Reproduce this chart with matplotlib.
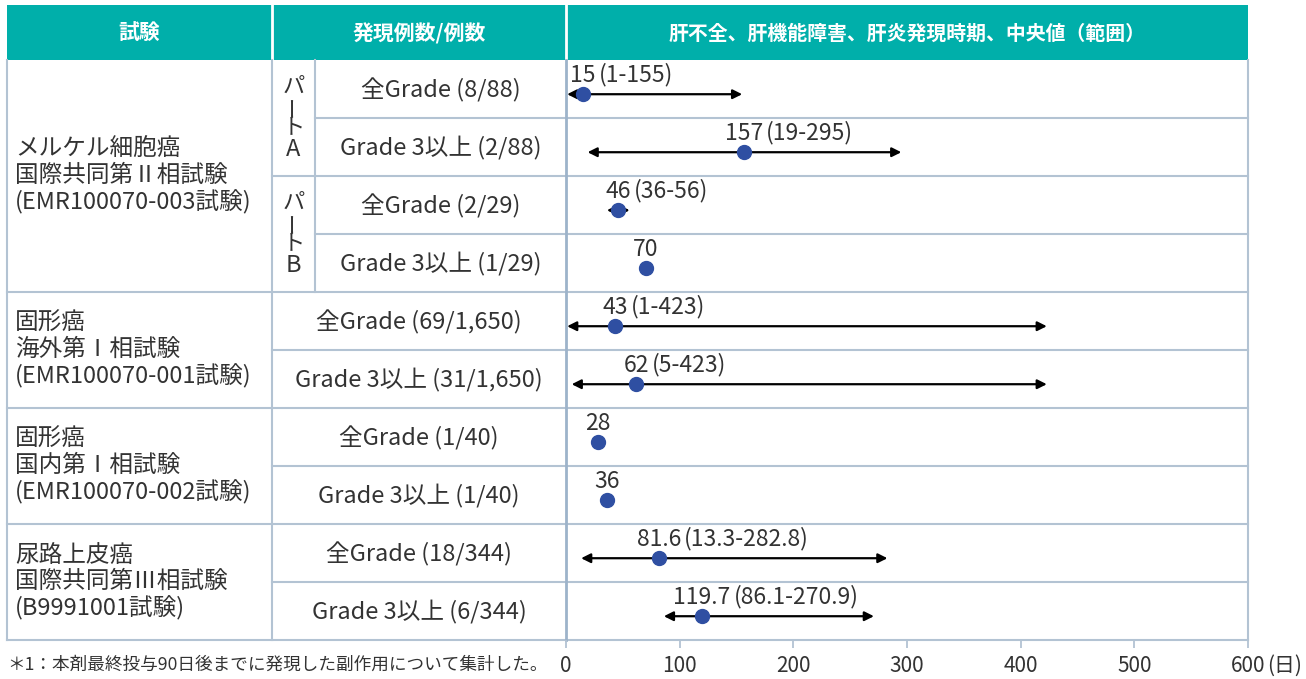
import matplotlib
matplotlib.use('Agg')
import matplotlib.pyplot as plt
import numpy as np

plt.rcParams['font.family'] = ['Noto Sans CJK JP', 'DejaVu Sans']

# data
studies = ['メルケル細胞癌\n国際共同第Ⅱ相試験\n(EMR100070-003試験)',
           '固形癌\n海外第Ⅰ相試験\n(EMR100070-001試験)',
           '固形癌\n国内第Ⅰ相試験\n(EMR100070-002試験)',
           '尿路上皮癌\n国際共同第Ⅲ相試験\n(B9991001試験)']
study_rows = [(0, 4), (4, 6), (6, 8), (8, 10)]
parts = ['A', 'B']
grades = ['全Grade (8/88)', 'Grade 3以上 (2/88)', '全Grade (2/29)', 'Grade 3以上 (1/29)',
          '全Grade (69/1,650)', 'Grade 3以上 (31/1,650)', '全Grade (1/40)', 'Grade 3以上 (1/40)',
          '全Grade (18/344)', 'Grade 3以上 (6/344)']
medians = [15, 157, 46, 70, 43, 62, 28, 36, 81.6, 119.7]
lows = [1, 19, 36, None, 1, 5, None, None, 13.3, 86.1]
highs = [155, 295, 56, None, 423, 423, None, None, 282.8, 270.9]
xticks = [0, 100, 200, 300, 400, 500, 600]
headers = ['試験', '発現例数/例数', '肝不全、肝機能障害、肝炎発現時期、中央値（範囲）']
footnote = '＊1：本剤最終投与90日後までに発現した副作用について集計した。'

teal = '#00AFAA'
grid = '#B3C3D3'
txt = '#333333'
dot = '#2F4FA2'

W, H = 1306, 679
fig = plt.figure(figsize=(W / 100, H / 100), dpi=100)

# table layer in pixel coordinates
bg = fig.add_axes([0, 0, 1, 1])
bg.set_xlim(0, W)
bg.set_ylim(H, 0)
bg.axis('off')

L, C1, CP, C2, R = 7, 272, 315, 566, 1248
top, hb, rh = 5, 60, 58
bottom = hb + rh * 10

bg.fill_between([L, R], top, hb, color=teal, lw=0)
for x in [C1, C2]:
    bg.plot([x, x], [top, hb], color='white', lw=2)
hx = [(L + C1) / 2, (C1 + C2) / 2, (C2 + R) / 2]
for x, h, fs in zip(hx, headers, [15, 15, 14.3]):
    bg.text(x, (top + hb) / 2 + 1, h, color='white', fontsize=fs, fontweight='bold',
            ha='center', va='center')

# horizontal row lines
for k in range(1, 11):
    y = hb + rh * k
    if k in (4, 6, 8, 10):
        x0 = L
    elif k in (1, 3):
        x0 = CP
    else:
        x0 = C1
    bg.plot([x0, R], [y, y], color=grid, lw=1.5)
# vertical lines
bg.plot([L, L], [hb, bottom], color=grid, lw=1.5)
bg.plot([C1, C1], [hb, bottom], color=grid, lw=1.5)
bg.plot([CP, CP], [hb, hb + 4 * rh], color=grid, lw=1.5)
bg.plot([R, R], [hb, bottom], color=grid, lw=1.5)
bg.plot([C2, C2], [hb, bottom], color='#9DB3CA', lw=2)

# study labels
for s, (r0, r1) in zip(studies, study_rows):
    yc = hb + rh * (r0 + r1) / 2
    bg.text(15, yc, s, fontsize=17, color=txt, ha='left', va='center', linespacing=1.17)

# part labels (vertical)
for i, p in enumerate(parts):
    yc = hb + rh * (2 * i + 1)
    xc = (C1 + CP) / 2
    bg.text(xc, yc - 32, 'パ', fontsize=16, color=txt, ha='center', va='center')
    bg.text(xc, yc - 12, 'ー', fontsize=16, color=txt, ha='center', va='center', rotation=90)
    bg.text(xc, yc + 9, 'ト', fontsize=16, color=txt, ha='center', va='center')
    bg.text(xc, yc + 31, p, fontsize=17, color=txt, ha='center', va='center')

# grade labels
for i, g in enumerate(grades):
    yc = hb + rh * (i + 0.5)
    xc = (CP + C2) / 2 if i < 4 else (C1 + C2) / 2
    bg.text(xc, yc + 1, g, fontsize=17, color=txt, ha='center', va='center')

bg.text(L, 665, footnote, fontsize=12.7, color=txt, ha='left', va='center')

# forest plot area
ax = fig.add_axes([C2 / W, 1 - bottom / H, (R - C2) / W, (bottom - hb) / H])
ax.set_xlim(0, 600)
ax.set_ylim(10, 0)
ax.patch.set_alpha(0)
for sp in ax.spines.values():
    sp.set_visible(False)
ax.set_yticks([])
ax.set_xticks(xticks, labels=[str(t) for t in xticks])
ax.tick_params(axis='x', direction='out', length=6, width=1.3, color=grid,
               labelsize=15, labelcolor=txt, pad=5)
ax.annotate('(日)', xy=(600, 0), xycoords=('data', 'axes fraction'),
            xytext=(14, -18.5), textcoords='offset points', fontsize=15, color=txt,
            ha='left', va='center')

ypos = np.arange(10) + 0.59
for i in range(10):
    y = ypos[i]
    if lows[i] is not None:
        ax.annotate('', xy=(highs[i], y), xytext=(lows[i], y),
                    arrowprops=dict(arrowstyle='<|-|>,head_length=0.5,head_width=0.25',
                                    color='black', lw=1.6, mutation_scale=11,
                                    shrinkA=0, shrinkB=0), zorder=2)
    ax.plot(medians[i], y, 'o', color=dot, ms=10, zorder=3, clip_on=False)
    t = ax.text(medians[i], y - 0.33, f'{medians[i]:g}', fontsize=16.5, color=txt,
                ha='center', va='center')
    if lows[i] is not None:
        ax.annotate(f'({lows[i]:g}-{highs[i]:g})', xy=(1, 0.5), xycoords=t,
                    xytext=(2, 0), textcoords='offset points', fontsize=16.5, color=txt,
                    ha='left', va='center')

fig.savefig('out.png', dpi=100)
